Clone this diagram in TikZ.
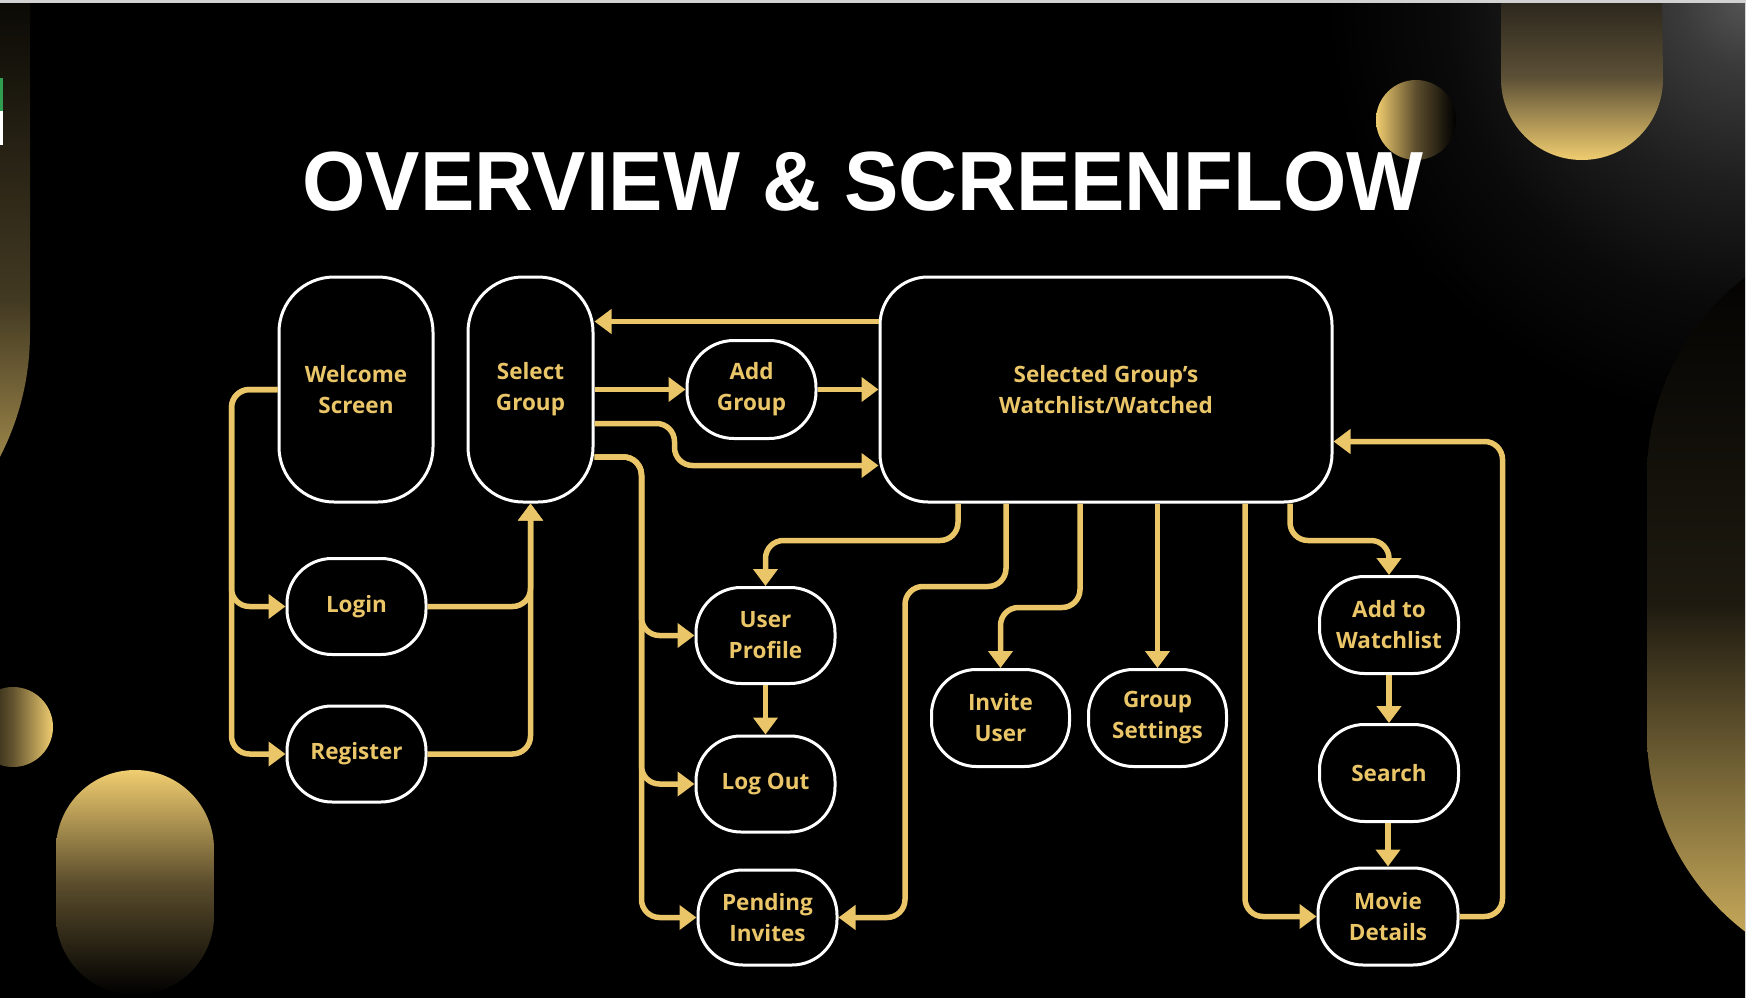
\documentclass[tikz,border=0pt]{standalone}
\usepackage{fontspec}
\setmainfont{Open Sans}
\newfontfamily\titlefont{Liberation Sans}
\usetikzlibrary{arrows.meta,calc}

\definecolor{gold}{RGB}{234,198,104}
\definecolor{goldlight}{RGB}{240,205,112}
\definecolor{glowA}{RGB}{84,84,84}
\definecolor{glowB}{RGB}{58,58,58}
\definecolor{glowC}{RGB}{30,30,30}
\definecolor{glowD}{RGB}{10,10,10}
\definecolor{edgegray}{RGB}{210,210,210}
\definecolor{tabgreen}{RGB}{47,158,80}

\pgfdeclareradialshading{cornerglow}{\pgfpoint{0bp}{0bp}}{%
  color(0bp)=(glowA); color(4bp)=(glowB); color(11bp)=(glowC);
  color(18bp)=(glowD); color(25bp)=(black); color(50bp)=(black)}

\tikzset{
  screen/.style={draw=white, line width=3pt, fill=black, text=gold,
    font=\bfseries\fontsize{22.5}{31}\selectfont, align=center, inner sep=0pt,
    rounded corners=45pt, minimum width=139pt, minimum height=96pt},
  tall/.style={screen, minimum height=225pt, rounded corners=55pt},
  flow/.style={draw=gold, line width=5.5pt, rounded corners=18pt,
    -{Triangle[width=24pt,length=17pt]}}
}

\begin{document}
\begin{tikzpicture}[x=1pt,y=-1pt]
\useasboundingbox (0,0) rectangle (1746,998);
\fill[black] (0,0) rectangle (1746,998);

% background ornaments
\begin{scope}
  \clip (0,0) rectangle (1746,998);
  \shade[shading=cornerglow] (1746,0) circle[radius=420];
  % tall pill on the left edge
  \shade[top color={rgb,255:red,10;green,9;blue,5}, bottom color={rgb,255:red,232;green,198;blue,106}, middle color={rgb,255:red,66;green,57;blue,34}]
    (30,-5) -- (30,333) arc[start angle=0, end angle=180, radius=270] -- (-510,-5) -- cycle;
  % hanging pill top right
  \shade[top color={rgb,255:red,40;green,36;blue,27}, bottom color=goldlight, middle color={rgb,255:red,92;green,80;blue,54}]
    (1501,-5) -- (1501,79) arc[start angle=180, end angle=0, radius=81] -- (1662,-5) -- cycle;
  % small discs
  \shade[left color=goldlight, right color=black, middle color={rgb,255:red,92;green,77;blue,45}] (1416,120) circle[radius=40];
  \shade[left color=black, right color=goldlight, middle color={rgb,255:red,100;green,85;blue,48}] (13,727) circle[radius=40];
  % pill bottom left
  \shade[rounded corners=79pt, top color=goldlight, bottom color=black, middle color={rgb,255:red,92;green,78;blue,45}]
    (56,770) rectangle (214,995);
  % large shape on the right edge
  \shade[rounded corners=250pt, top color=black, bottom color={rgb,255:red,222;green,189;blue,100}, middle color={rgb,255:red,30;green,26;blue,16}]
    (1647,226) rectangle (2147,983);
  % window edges
  \fill[edgegray] (0,0) rectangle (1746,3);
  \fill[edgegray] (1744.5,0) rectangle (1746,998);
  \fill[tabgreen] (0,78) rectangle (3,111);
  \fill[white] (0,111) rectangle (3,145);
\end{scope}

% title
\node[text=white, anchor=base, inner sep=0pt] (title) at (863,210)
  {\scalebox{0.97}[1]{\titlefont\bfseries\fontsize{84}{84}\selectfont OVERVIEW \& SCREENFLOW}};

% screens
\node[tall, minimum width=154pt] (welcome) at (356,389.5) {Welcome\\Screen};
\node[tall, minimum width=125pt] (select) at (530.5,389.5) {Select\\Group};
\node[screen, minimum width=129pt, minimum height=98pt, rounded corners=47pt] (addgroup) at (751.5,389.5) {Add\\Group};
\node[screen, minimum width=452pt, minimum height=225pt, rounded corners=48pt] (sel) at (1106,389.5) {Selected Group’s\\Watchlist/Watched};
\node[screen] (login) at (356.5,606.5) {Login};
\node[screen] (register) at (356.5,754) {Register};
\node[screen] (profile) at (765.5,635.5) {User\\Profile};
\node[screen] (logout) at (765.5,784) {Log Out};
\node[screen, minimum height=95pt] (pending) at (767.5,917.5) {Pending\\Invites};
\node[screen, minimum width=138pt, minimum height=97pt] (invite) at (1000.5,718) {Invite\\User};
\node[screen, minimum width=138pt, minimum height=97pt] (settings) at (1157.5,718) {Group\\Settings};
\node[screen, minimum height=97pt] (addwl) at (1389,625) {Add to\\Watchlist};
\node[screen, minimum height=97pt] (search) at (1389,773) {Search};
\node[screen, minimum width=140pt, minimum height=97pt] (movie) at (1388,916.5) {Movie\\Details};

% connectors
\draw[flow] ([yshift=68pt]sel.west) -- ([yshift=68pt]select.east);
\draw[flow] (select.east) -- (addgroup.west);
\draw[flow] (addgroup.east) -- (sel.west);
\draw[flow] ([yshift=-34pt]select.east) -- ++(80,0) |- ([yshift=-76pt]sel.west);
\draw[flow] ([yshift=-67.5pt]select.east) -- ++(47,0) |- (profile.west);
\draw[flow] ([yshift=-67.5pt]select.east) -- ++(47,0) |- (logout.west);
\draw[flow] ([yshift=-67.5pt]select.east) -- ++(47,0) |- (pending.west);

\draw[flow] (welcome.west) -- ++(-46,0) |- (login.west);
\draw[flow] (welcome.west) -- ++(-46,0) |- (register.west);
\draw[flow] (login.east) -| (select.south);
\draw[flow] (register.east) -| (select.south);

\draw[flow] ([xshift=-148pt]sel.south) -- ++(0,37) -| (profile.north);
\draw[flow] ([xshift=-100pt]sel.south) -- ++(0,83) -- ++(-101,0) |- (pending.east);
\draw[flow] ([xshift=-26pt]sel.south) -- ++(0,104) -| (invite.north);
\draw[flow] (sel.south -| settings.north) -- (settings.north);
\draw[flow] ([xshift=139pt]sel.south) |- (movie.west);
\draw[flow] ([xshift=184pt]sel.south) -- ++(0,37) -| (addwl.north);
\draw[flow] (addwl.south) -- (search.north);
\draw[flow] (movie.north |- search.south) -- (movie.north);
\draw[flow] (movie.east) -- ++(43,0) |- ([yshift=-52pt]sel.east);
\draw[flow] (profile.south) -- (logout.north);
\end{tikzpicture}
\end{document}
